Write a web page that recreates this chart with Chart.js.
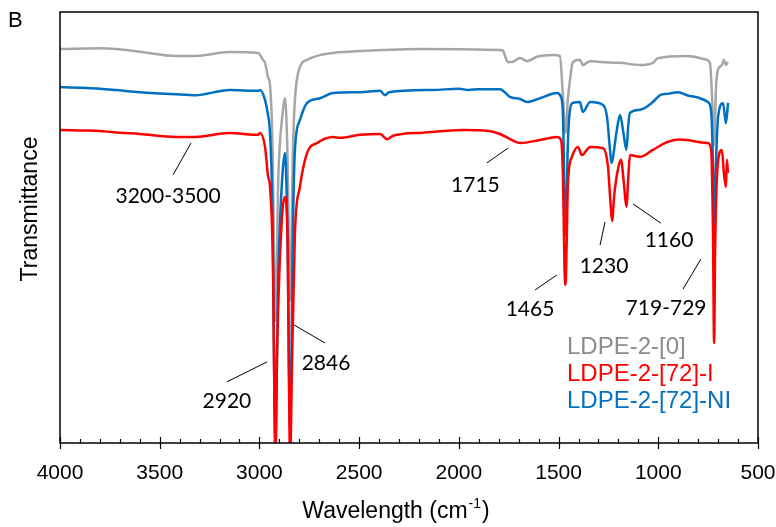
<!DOCTYPE html>
<html>
<head>
<meta charset="utf-8">
<script src="https://cdn.jsdelivr.net/npm/chart.js@4.4.0/dist/chart.umd.min.js"></script>
<style>
  html, body { margin: 0; padding: 0; background: #fff; }
  #wrap { width: 776px; height: 527px; position: relative; }
</style>
</head>
<body>
<div id="wrap"><canvas id="myChart" width="776" height="527"></canvas></div>
<script>
// wavenumbers (cm-1) and transmittance (arbitrary, 0-100 of the axis)
const grayWn = [4000, 3800, 3720, 3600, 3420, 3320, 3150, 3007, 2982, 2972, 2957, 2947, 2935, 2920, 2905, 2885, 2872, 2860, 2846, 2832, 2822, 2797, 2761, 2696, 2631, 2461, 2180, 1794, 1779, 1754, 1734, 1693, 1658, 1608, 1528, 1493, 1478, 1465, 1453, 1443, 1428, 1393, 1378, 1342, 1292, 1192, 1092, 1027, 1001, 856, 756, 741, 730, 720, 710, 701, 681, 671, 661, 651];
const grayT = [91.4, 91.6, 91.4, 90.8, 89.8, 89.8, 90.7, 90.5, 88.9, 88.2, 84.9, 83.1, 70, 28.5, 62, 76, 80.0, 68, 33.2, 68, 79.6, 87.2, 88.9, 90.0, 90.5, 91.0, 91.4, 91.2, 91.0, 88.4, 88.4, 89.3, 88.6, 89.6, 90.0, 89.8, 80.3, 71.9, 80.0, 84.2, 88.4, 88.9, 87.7, 88.6, 88.4, 88.2, 87.7, 88.2, 89.3, 89.8, 88.9, 88.2, 80, 69.1, 83, 86.5, 87.7, 88.9, 87.7, 88.4];

const blueWn = [4000, 3900, 3800, 3720, 3600, 3420, 3323, 3150, 3007, 2997, 2972, 2957, 2947, 2935, 2920, 2905, 2885, 2872, 2860, 2846, 2832, 2822, 2797, 2761, 2696, 2631, 2496, 2395, 2370, 2350, 2130, 2000, 1950, 1900, 1794, 1744, 1693, 1658, 1593, 1508, 1488, 1478, 1465, 1453, 1443, 1428, 1393, 1378, 1342, 1277, 1257, 1242, 1235, 1210, 1192, 1175, 1160, 1150, 1142, 1092, 1027, 991, 956, 900, 856, 791, 751, 735, 726, 720, 710, 700, 675, 661, 650];
const blueT = [82.6, 82.4, 82.2, 81.9, 81.4, 80.9, 80.7, 81.9, 81.7, 81.9, 79.6, 76.1, 71.9, 55, 0.7, 40, 62, 67.3, 50, 3.0, 50, 68.0, 74.9, 78.9, 80.0, 81.2, 81.4, 81.7, 80.7, 81.4, 81.9, 82.2, 81.9, 82.1, 82.1, 80.3, 79.8, 79.1, 80.0, 81.2, 80.3, 76, 48.3, 70, 77.3, 78.9, 79.1, 76.8, 79.1, 78.4, 75.6, 68, 65.0, 72, 76.1, 72, 68.0, 74, 76.6, 77.3, 79.1, 80.7, 81.0, 81.4, 80.7, 80.0, 79.1, 77, 65, 49.4, 66, 75.7, 78.8, 74.2, 78.9];

const redWn = [4000, 3900, 3800, 3700, 3600, 3420, 3323, 3150, 3007, 2997, 2972, 2957, 2947, 2932, 2926, 2920, 2912, 2890, 2872, 2858, 2852, 2846, 2838, 2822, 2797, 2761, 2711, 2631, 2596, 2496, 2395, 2360, 2330, 2180, 1979, 1850, 1794, 1734, 1693, 1593, 1508, 1488, 1478, 1470, 1465, 1460, 1453, 1433, 1403, 1383, 1342, 1277, 1252, 1240, 1232, 1220, 1200, 1187, 1172, 1160, 1150, 1142, 1092, 1027, 956, 900, 856, 791, 751, 735, 726, 720, 715, 701, 681, 671, 661, 656, 651];
const redT = [72.6, 72.5, 72.4, 72.0, 71.7, 71.0, 71.0, 71.9, 71.5, 71.9, 68.7, 62, 59.4, 40.8, 15, -5, 20, 50, 57.1, 45, 15, -5, 15, 48.7, 59.4, 67.3, 69.6, 71.0, 70.8, 71.5, 71.7, 70.5, 71.3, 72.0, 72.6, 72.4, 71.7, 70.3, 69.6, 70.3, 71.0, 70.3, 62, 40, 36.7, 45, 60.3, 66.4, 68.7, 66.8, 68.7, 68.4, 64.0, 56, 51.5, 58, 64, 65.7, 60, 54.8, 62, 66.8, 66.4, 68.0, 69.8, 70.4, 70.3, 69.8, 69.6, 68, 50, 23.2, 45, 65.1, 68.0, 62.6, 59.4, 65.7, 62.6];

const xTicks = [4000, 3500, 3000, 2500, 2000, 1500, 1000, 500];

const seriesNames = ["LDPE-2-[0]", "LDPE-2-[72]-I", "LDPE-2-[72]-NI"];
const seriesColors = ["#a6a6a6", "#ff0000", "#0070c0"];
const legendColors = ["#8c8c8c", "#ff0000", "#0070c0"];

// peak labels: text, label centre (wn, T), leader line from/to (wn, T)
const notes = [
  ["3200-3500", 3458, 57.3, 3433, 62.2, 3343, 69.6],
  ["1715", 1917, 59.9, 1859, 65.0, 1754, 68.4],
  ["1160", 946, 47.1, 1127, 55.5, 987, 51.0],
  ["1230", 1272, 41.1, 1292, 45.9, 1267, 51.3],
  ["1465", 1643, 31.1, 1618, 35.5, 1508, 39.0],
  ["719-729", 961, 31.3, 876, 35.7, 786, 42.7],
  ["2846", 2666, 18.6, 2827, 27.4, 2671, 23.2],
  ["2920", 3163, 9.7, 3163, 14.2, 2962, 18.8],
];

const toPoints = (xs, ys) => xs.map((x, i) => ({ x: x, y: ys[i] }));

const extras = {
  id: "extras",
  afterDraw(chart) {
    const c = chart.ctx;
    const xs = chart.scales.x, ys = chart.scales.y;
    const a = chart.chartArea;
    c.save();
    // frame
    c.strokeStyle = "#000";
    c.lineWidth = 1.5;
    c.strokeRect(a.left, a.top, a.right - a.left, a.bottom - a.top);
    // ticks: major crossing the axis, minor inside
    c.lineWidth = 1.2;
    for (let w = 500; w <= 4000; w += 100) {
      const px = Math.round(xs.getPixelForValue(w)) + 0.5;
      c.beginPath();
      if (w % 500 === 0) {
        c.moveTo(px, a.bottom - 6);
        c.lineTo(px, a.bottom + 6);
      } else {
        c.moveTo(px, a.bottom - 4);
        c.lineTo(px, a.bottom);
      }
      c.stroke();
    }
    // leader lines and peak labels
    c.lineWidth = 1;
    c.fillStyle = "#000";
    c.font = "21px Lato";
    c.textAlign = "center";
    c.textBaseline = "middle";
    notes.forEach(n => {
      c.beginPath();
      c.moveTo(xs.getPixelForValue(n[3]), ys.getPixelForValue(n[4]));
      c.lineTo(xs.getPixelForValue(n[5]), ys.getPixelForValue(n[6]));
      c.stroke();
      c.fillText(n[0], xs.getPixelForValue(n[1]), ys.getPixelForValue(n[2]));
    });
    // legend
    c.font = "24px 'Liberation Sans'";
    c.textAlign = "left";
    seriesNames.forEach((name, i) => {
      c.fillStyle = legendColors[i];
      c.fillText(name, 567, 347 + i * 27);
    });
    // panel letter
    c.fillStyle = "#000";
    c.font = "22px 'Liberation Sans'";
    c.fillText("B", 8, 21);
    // y title
    c.save();
    c.translate(31, 209);
    c.rotate(-Math.PI / 2);
    c.textAlign = "center";
    c.font = "23px 'Liberation Sans'";
    c.fillText("Transmittance", 0, 0);
    c.restore();
    // x title with superscript
    c.font = "23px 'Liberation Sans'";
    const t1 = "Wavelength (cm", sup = "-1", t2 = ")";
    const w1 = c.measureText(t1).width;
    c.font = "14px 'Liberation Sans'";
    const ws = c.measureText(sup).width;
    c.font = "23px 'Liberation Sans'";
    const w2 = c.measureText(t2).width;
    let x0 = 395 - (w1 + ws + w2) / 2;
    const yb = 512;
    c.fillText(t1, x0, yb);
    c.font = "14px 'Liberation Sans'";
    c.fillText(sup, x0 + w1 + 1, yb - 8);
    c.font = "23px 'Liberation Sans'";
    c.fillText(t2, x0 + w1 + ws + 2, yb);
    c.restore();
  }
};

const ctx = document.getElementById("myChart");
const myChart = new Chart(ctx, {
  type: "line",
  data: {
    datasets: [
      { label: seriesNames[0], data: toPoints(grayWn, grayT), borderColor: seriesColors[0], order: 3 },
      { label: seriesNames[1], data: toPoints(redWn, redT), borderColor: seriesColors[1], order: 1 },
      { label: seriesNames[2], data: toPoints(blueWn, blueT), borderColor: seriesColors[2], order: 2 },
    ],
  },
  options: {
    responsive: false,
    animation: false,
    layout: { padding: { left: 60, top: 12, right: 18, bottom: 0 } },
    elements: {
      line: { borderWidth: 2.5, cubicInterpolationMode: "monotone", fill: false },
      point: { radius: 0 },
    },
    plugins: { legend: { display: false }, tooltip: { enabled: false } },
    scales: {
      x: {
        type: "linear",
        reverse: true,
        min: 500,
        max: 4000,
        grid: { display: false },
        border: { display: false },
        afterBuildTicks: (s) => { s.ticks = xTicks.map(v => ({ value: v })); },
        afterFit: (s) => { s.paddingLeft = 0; s.paddingRight = 0; s.height = 84; },
        ticks: {
          padding: 10,
          color: "#000",
          maxRotation: 0,
          font: { family: "'Liberation Sans'", size: 21 },
          callback: (v) => String(v),
        },
      },
      y: { display: false, min: 0, max: 100 },
    },
  },
  plugins: [extras],
});
</script>
</body>
</html>
